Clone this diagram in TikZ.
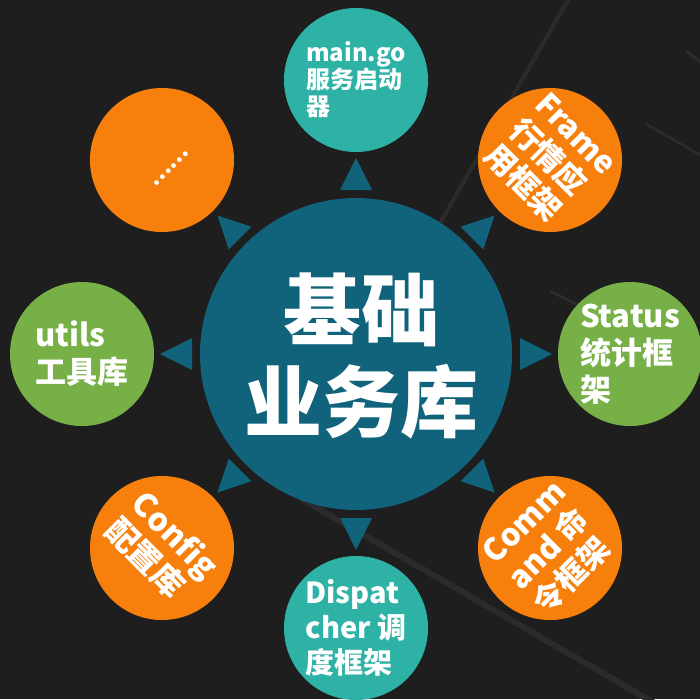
\documentclass[tikz,border=0pt]{standalone}
\usepackage{fontspec}
\setmainfont{Noto Sans CJK SC}
\definecolor{bg}{HTML}{1E1E1E}
\definecolor{hubc}{HTML}{10637A}
\definecolor{tealc}{HTML}{2EB2A5}
\definecolor{orangec}{HTML}{F77F0C}
\definecolor{greenc}{HTML}{76B047}
\definecolor{linecol}{HTML}{2B2B2B}
\begin{document}
\begin{tikzpicture}[x=1pt,y=-1pt,
  bub/.style={circle, inner sep=0pt, minimum size=144pt},
  lbl/.style={text=white, align=left, inner sep=0pt},
  fs/.style 2 args={font=\bfseries\fontsize{#1}{#2}\selectfont}]
\fill[bg] (0,0) rectangle (700,699);
\useasboundingbox (0,0) rectangle (700,699);
% faint background strokes
\draw[line width=4pt, linecol] (569,-2) -- (420,258);
\draw[line width=3pt, linecol] (686,51) -- (702,63);
\draw[line width=3pt, linecol] (646,124) -- (702,156);
\draw[line width=3pt, linecol] (550,291) -- (600,316);
\draw[line width=6pt, linecol] (300,498) -- (670,712);
% hub
\node[circle, fill=hubc, minimum size=312pt, inner sep=0pt] (hub) at (356,354) {};
\node[lbl, align=center, fs={78}{92}] (hubt) at (361,356) {基础\\业务库};
% arrow triangles
\begin{scope}[shift={(hub.center)}]
\foreach \a in {0,45,...,315} {
  \fill[hubc, rotate=\a] (164,-16) -- (196,0) -- (164,16) -- cycle;
}
\end{scope}
% satellites
\node[bub, fill=tealc]   (main)   at (356,80)  {};
\node[bub, fill=orangec] (frame)  at (550,160) {};
\node[bub, fill=greenc]  (status) at (630,354) {};
\node[bub, fill=orangec] (comm)   at (550,548) {};
\node[bub, fill=tealc]   (disp)   at (356,628) {};
\node[bub, fill=orangec] (config) at (162,548) {};
\node[bub, fill=greenc]  (utils)  at (82,354)  {};
\node[bub, fill=orangec] (more)   at (162,160) {};
% labels
\node[lbl, fs={24}{27}] (maint) at (main) {main.go\\服务启动\\器};
\node[lbl, fs={31}{36}, rotate=-45] (framet) at (frame) {Frame\\行情应\\用框架};
\node[lbl, fs={31}{37}] (statust) at (status) {Status\\统计框\\架};
\node[lbl, fs={31}{36}, rotate=45] (commt) at (comm) {Comm\\and 命\\令框架};
\node[lbl, fs={29}{35}] (dispt) at (disp) {Dispat\\cher 调\\度框架};
\node[lbl, fs={32}{37}, rotate=-45] (configt) at (config) {Config\\配置库};
\node[lbl, fs={31}{37}] (utilst) at (utils) {utils\\工具库};
\node[lbl, fs={22}{26}, rotate=45] (moret) at (171,169) {……};
\end{tikzpicture}
\end{document}
